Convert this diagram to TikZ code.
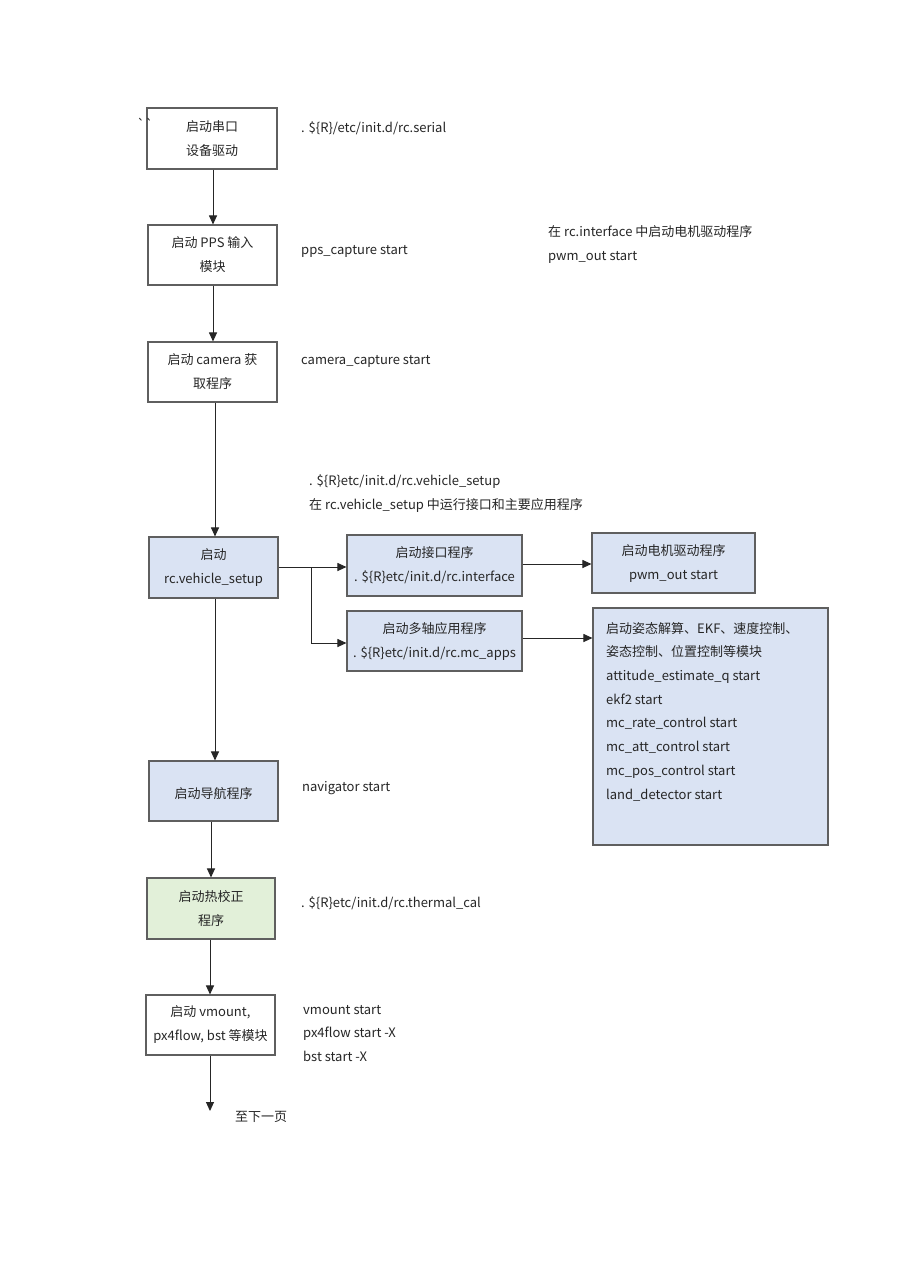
\documentclass[tikz,border=0pt]{standalone}
\usepackage{fontspec}
\newfontfamily\cjk{Noto Sans CJK SC}
\usetikzlibrary{arrows.meta}
\definecolor{bluefill}{HTML}{DAE3F3}
\definecolor{greenfill}{HTML}{E2F0D9}
\definecolor{edge}{HTML}{5F5F5F}
\definecolor{txt}{HTML}{262626}
\tikzset{
  every node/.style={font=\cjk\fontsize{13}{24}\selectfont, text=txt, inner sep=0pt},
  box/.style={draw=edge, line width=1.1pt, fill=white, align=center,
              execute at begin node={\rule{0pt}{15.5pt}}},
  bluebox/.style={box, fill=bluefill},
  greenbox/.style={box, fill=greenfill},
  lbl/.style={anchor=west, align=left, text height=10pt, text depth=3pt, yshift=-2pt},
  arr/.style={draw=black!85, line width=1pt, -{Triangle[length=9pt,width=8pt]}},
}
\begin{document}
\begin{tikzpicture}[x=1pt,y=-1pt]
\useasboundingbox (0,0) rectangle (905,1280);
\fill[white] (0,0) rectangle (905,1280);

% boxes
\node[box, minimum width=130pt, minimum height=61pt] (b1) at (212,138.5) {启动串口\\设备驱动};
\node[box, minimum width=129pt, minimum height=60pt] (b2) at (212.5,255) {启动 PPS 输入\\模块};
\node[box, minimum width=129pt, minimum height=60pt] (b3) at (212.5,372) {启动 camera 获\\取程序};
\node[bluebox, minimum width=129pt, minimum height=61pt] (b4) at (213.5,567.5) {启动\\rc.vehicle\_setup};
\node[bluebox, minimum width=175pt, minimum height=61pt] (b5) at (434.5,565.5) {启动接口程序\\. \$\{R\}etc/init.d/rc.interface};
\node[bluebox, minimum width=163pt, minimum height=60pt] (b6) at (673.5,563) {启动电机驱动程序\\pwm\_out start};
\node[bluebox, minimum width=175pt, minimum height=60pt] (b7) at (434.5,641) {启动多轴应用程序\\. \$\{R\}etc/init.d/rc.mc\_apps};
\node[draw=edge, line width=1.1pt, fill=bluefill, minimum width=235pt, minimum height=237pt] (b8) at (710.5,726.5) {};
\node[anchor=north west, align=left, font=\cjk\fontsize{13}{23.7}\selectfont] (b8t) at (606,622)
  {启动姿态解算、EKF、速度控制、\\姿态控制、位置控制等模块\\attitude\_estimate\_q start\\ekf2 start\\mc\_rate\_control start\\mc\_att\_control start\\mc\_pos\_control start\\land\_detector start};
\node[bluebox, minimum width=129pt, minimum height=60pt] (b9) at (213.5,791) {启动导航程序};
\node[greenbox, minimum width=128pt, minimum height=61pt] (b10) at (211,908.5) {启动热校正\\程序};
\node[box, minimum width=129pt, minimum height=60pt] (b11) at (210.5,1025) {启动 vmount,\\px4flow, bst 等模块};

% labels
\node[lbl] (m0) at (137,124) {`\kern0.3pt`};
\node[lbl] (l1) at (301,127) {. \$\{R\}/etc/init.d/rc.serial};
\node[lbl] (l2) at (301,249) {pps\_capture start};
\node[lbl] (l3a) at (548,231) {在 rc.interface 中启动电机驱动程序};
\node[lbl] (l3b) at (548,255) {pwm\_out start};
\node[lbl] (l4) at (301,359) {camera\_capture start};
\node[lbl] (l5a) at (309,480) {. \$\{R\}etc/init.d/rc.vehicle\_setup};
\node[lbl] (l5b) at (309,504) {在 rc.vehicle\_setup 中运行接口和主要应用程序};
\node[lbl] (l6) at (302,786) {navigator start};
\node[lbl] (l7) at (301,902) {. \$\{R\}etc/init.d/rc.thermal\_cal};
\node[lbl] (l8a) at (303,1009) {vmount start};
\node[lbl] (l8b) at (303,1032) {px4flow start -X};
\node[lbl] (l8c) at (303,1056) {bst start -X};
\node[lbl] (l9) at (235,1116) {至下一页};

% connectors
\draw[arr] (b1.south -| 213,0) -- (b2.north -| 213,0);
\draw[arr] (b2.south -| 213,0) -- (b3.north -| 213,0);
\draw[arr] (b3.south -| 215,0) -- (b4.north -| 215,0);
\draw[arr] (b4.south -| 215,0) -- (b9.north -| 215,0);
\draw[arr] (b9.south -| 211,0) -- (b10.north -| 211,0);
\draw[arr] (b10.south -| 210,0) -- (b11.north -| 210,0);
\coordinate (endp) at (210,1111);
\draw[arr] (b11.south -| endp) -- (endp);
\draw[arr] (b4.east |- 0,567) -- (b5.west |- 0,567);
\coordinate (br) at (311,567);
\draw[arr] (br) |- (b7.west |- 0,643);
\draw[arr] (b5.east |- 0,564) -- (b6.west |- 0,564);
\draw[arr] (b7.east |- 0,638) -- (b8.west |- 0,638);
\end{tikzpicture}
\end{document}
